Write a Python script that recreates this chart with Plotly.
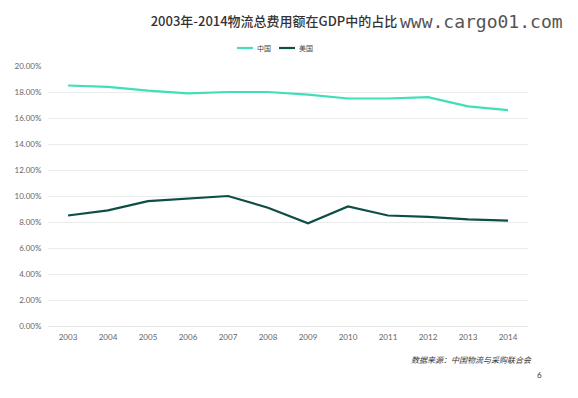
import plotly.graph_objects as go

years = ["2003", "2004", "2005", "2006", "2007", "2008", "2009", "2010", "2011", "2012", "2013", "2014"]
china = [0.185, 0.184, 0.181, 0.179, 0.180, 0.180, 0.178, 0.175, 0.175, 0.176, 0.169, 0.166]
usa = [0.085, 0.089, 0.096, 0.098, 0.100, 0.091, 0.079, 0.092, 0.085, 0.084, 0.082, 0.081]
series_names = ["中国", "美国"]
series_colors = ["#40dfb6", "#0d4f46"]
y_ticks = [0, 0.02, 0.04, 0.06, 0.08, 0.10, 0.12, 0.14, 0.16, 0.18, 0.20]

font_main = "Lato, 'Noto Sans CJK SC', sans-serif"
cjk = "'Noto Sans CJK SC', sans-serif"

fig = go.Figure()
for name, vals, col in zip(series_names, [china, usa], series_colors):
    fig.add_trace(go.Scatter(x=years, y=vals, mode="lines", name=name, showlegend=False,
                             line=dict(color=col, width=2.2)))

# plot area in pixels: x 48..528, y 66..326
def px_x(p):
    return (p - 48) / 480

def px_y(p):
    return (326 - p) / 260

# custom compact legend (short line samples like the reference)
legend_shapes = []
legend_annots = []
legend_starts = [237, 279]
for start, name, col in zip(legend_starts, series_names, series_colors):
    legend_shapes.append(dict(type="line", xref="paper", yref="paper",
                              x0=px_x(start), x1=px_x(start + 16), y0=px_y(48), y1=px_y(48),
                              line=dict(color=col, width=2.2)))
    legend_annots.append(dict(text=name, xref="paper", yref="paper",
                              x=px_x(start + 18), xanchor="left", y=px_y(48), yanchor="middle",
                              showarrow=False, font=dict(family=cjk, size=7, color="#444")))

fig.update_layout(
    width=578, height=398,
    margin=dict(l=48, r=50, t=66, b=72, autoexpand=False),
    paper_bgcolor="white", plot_bgcolor="white",
    font=dict(family=font_main, size=8, color="#666"),
    showlegend=False,
    title=dict(text="2003年-2014物流总费用额在GDP中的占比", x=0.474, xanchor="center",
               y=0.945, yanchor="middle",
               font=dict(family=cjk, size=13, color="#333", weight=500)),
    xaxis=dict(type="category", range=[-0.5, 11.5], showgrid=False, automargin=False,
               showline=True, linecolor="#e4e4e4", linewidth=1,
               ticks="outside", ticklen=3, tickcolor="rgba(0,0,0,0)",
               tickfont=dict(family=font_main, size=8, color="#666"), fixedrange=True),
    yaxis=dict(range=[0, 0.2], tickvals=y_ticks, tickformat=".2%", automargin=False,
               showgrid=True, gridcolor="#ebebeb", gridwidth=1, zeroline=False,
               ticks="outside", ticklen=4, tickcolor="rgba(0,0,0,0)",
               tickfont=dict(family=font_main, size=8, color="#666")),
    shapes=legend_shapes,
    annotations=legend_annots + [
        dict(text="www.cargo01.com", xref="paper", yref="paper",
             x=px_x(398), xanchor="left", y=px_y(22), yanchor="middle",
             showarrow=False, font=dict(family="'DejaVu Sans Mono', monospace", size=18, color="#555")),
        dict(text="<i>数据来源：中国物流与采购联合会</i>", xref="paper", yref="paper",
             x=px_x(534), xanchor="right", y=px_y(359), yanchor="middle",
             showarrow=False, font=dict(family=cjk, size=8, color="#333")),
        dict(text="6", xref="paper", yref="paper",
             x=px_x(539), xanchor="center", y=px_y(375), yanchor="middle",
             showarrow=False, font=dict(family=font_main, size=8, color="#333")),
    ],
)

fig.write_html("out.html", config={"displayModeBar": False},
               post_script="document.body.style.margin='0';")
